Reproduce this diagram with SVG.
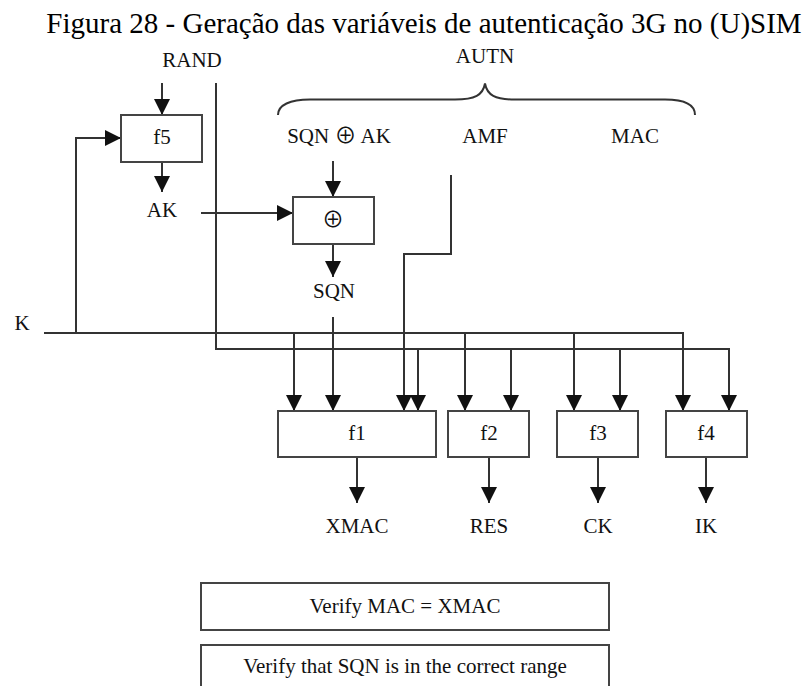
<svg xmlns="http://www.w3.org/2000/svg" width="810" height="686" viewBox="0 0 810 686">
<defs>
<marker id="arr" markerUnits="userSpaceOnUse" markerWidth="16" markerHeight="16" refX="16" refY="8" orient="auto">
<path d="M0,0 L16,8 L0,16 z" fill="#111"/>
</marker>
<style>
.t{font-family:"Liberation Serif","Times New Roman",serif;fill:#111;text-anchor:middle;font-size:21px}
.title{font-size:29px;fill:#000}
.box{fill:#fff;stroke:#444;stroke-width:2}
.ln{fill:none;stroke:#333;stroke-width:2}
.ar{fill:none;stroke:#333;stroke-width:2;marker-end:url(#arr)}
.sym{font-family:"Noto Sans CJK SC","DejaVu Serif",serif;font-size:22px}
</style>
</defs>
<rect width="810" height="686" fill="#fff"/>
<text class="t title" font-family="Liberation Serif, serif" x="424" y="33">Figura 28 - Geração das variáveis de autenticação 3G no (U)SIM</text>

<g id="labels-top">
<text class="t" x="192" y="67">RAND</text>
<text class="t" x="485" y="63">AUTN</text>
<path class="ln" d="M278,115 C278,105 290,99.5 310,99.5 L455,99.5 C475,99.5 483,95 485,83.5 C487,95 495,99.5 515,99.5 L665,99.5 C685,99.5 695,105 695,115"/>
<text class="t" x="339" y="143">SQN <tspan class="sym">⊕</tspan> AK</text>
<text class="t" x="485" y="143">AMF</text>
<text class="t" x="635" y="143">MAC</text>
<text class="t" x="162" y="217">AK</text>
<text class="t" x="334" y="298">SQN</text>
<text class="t" x="22" y="330">K</text>
</g>

<g id="connectors">
<path class="ar" d="M162,83 V115"/>
<path class="ar" d="M216,83 V349 H729 V411"/>
<path class="ar" d="M418,349 V411"/>
<path class="ar" d="M511,349 V411"/>
<path class="ar" d="M620,349 V411"/>
<path class="ar" d="M44,333 H683 V411"/>
<path class="ar" d="M76,333 V138 H121"/>
<path class="ar" d="M294,333 V411"/>
<path class="ar" d="M465,333 V411"/>
<path class="ar" d="M574,333 V411"/>
<path class="ar" d="M162,162 V192"/>
<path class="ar" d="M201,213 H293"/>
<path class="ar" d="M333,161 V197"/>
<path class="ar" d="M333,244 V277"/>
<path class="ar" d="M333,317 V411"/>
<path class="ar" d="M451,175 V254 H404 V411"/>
<path class="ar" d="M357,457 V503"/>
<path class="ar" d="M489,457 V503"/>
<path class="ar" d="M598,457 V503"/>
<path class="ar" d="M706,457 V503"/>
</g>

<g id="f5"><rect class="box" x="121" y="115" width="81" height="47"/><text class="t" x="162" y="144">f5</text></g>
<g id="xor"><rect class="box" x="293" y="197" width="81" height="47"/><text class="t sym" x="333" y="227">⊕</text></g>
<g id="f1"><rect class="box" x="278" y="411" width="158" height="46"/><text class="t" x="357" y="440">f1</text></g>
<g id="f2"><rect class="box" x="448" y="411" width="81" height="46"/><text class="t" x="489" y="440">f2</text></g>
<g id="f3"><rect class="box" x="557" y="411" width="81" height="46"/><text class="t" x="598" y="440">f3</text></g>
<g id="f4"><rect class="box" x="666" y="411" width="81" height="46"/><text class="t" x="706" y="440">f4</text></g>

<g id="outputs">
<text class="t" x="357" y="533">XMAC</text>
<text class="t" x="489" y="533">RES</text>
<text class="t" x="598" y="533">CK</text>
<text class="t" x="706" y="533">IK</text>
</g>

<g id="verify-mac"><rect class="box" x="201" y="583" width="408" height="47"/><text class="t" x="405" y="613">Verify MAC = XMAC</text></g>
<g id="verify-sqn"><rect class="box" x="201" y="645" width="408" height="60"/><text class="t" x="405" y="673">Verify that SQN is in the correct range</text></g>
</svg>
